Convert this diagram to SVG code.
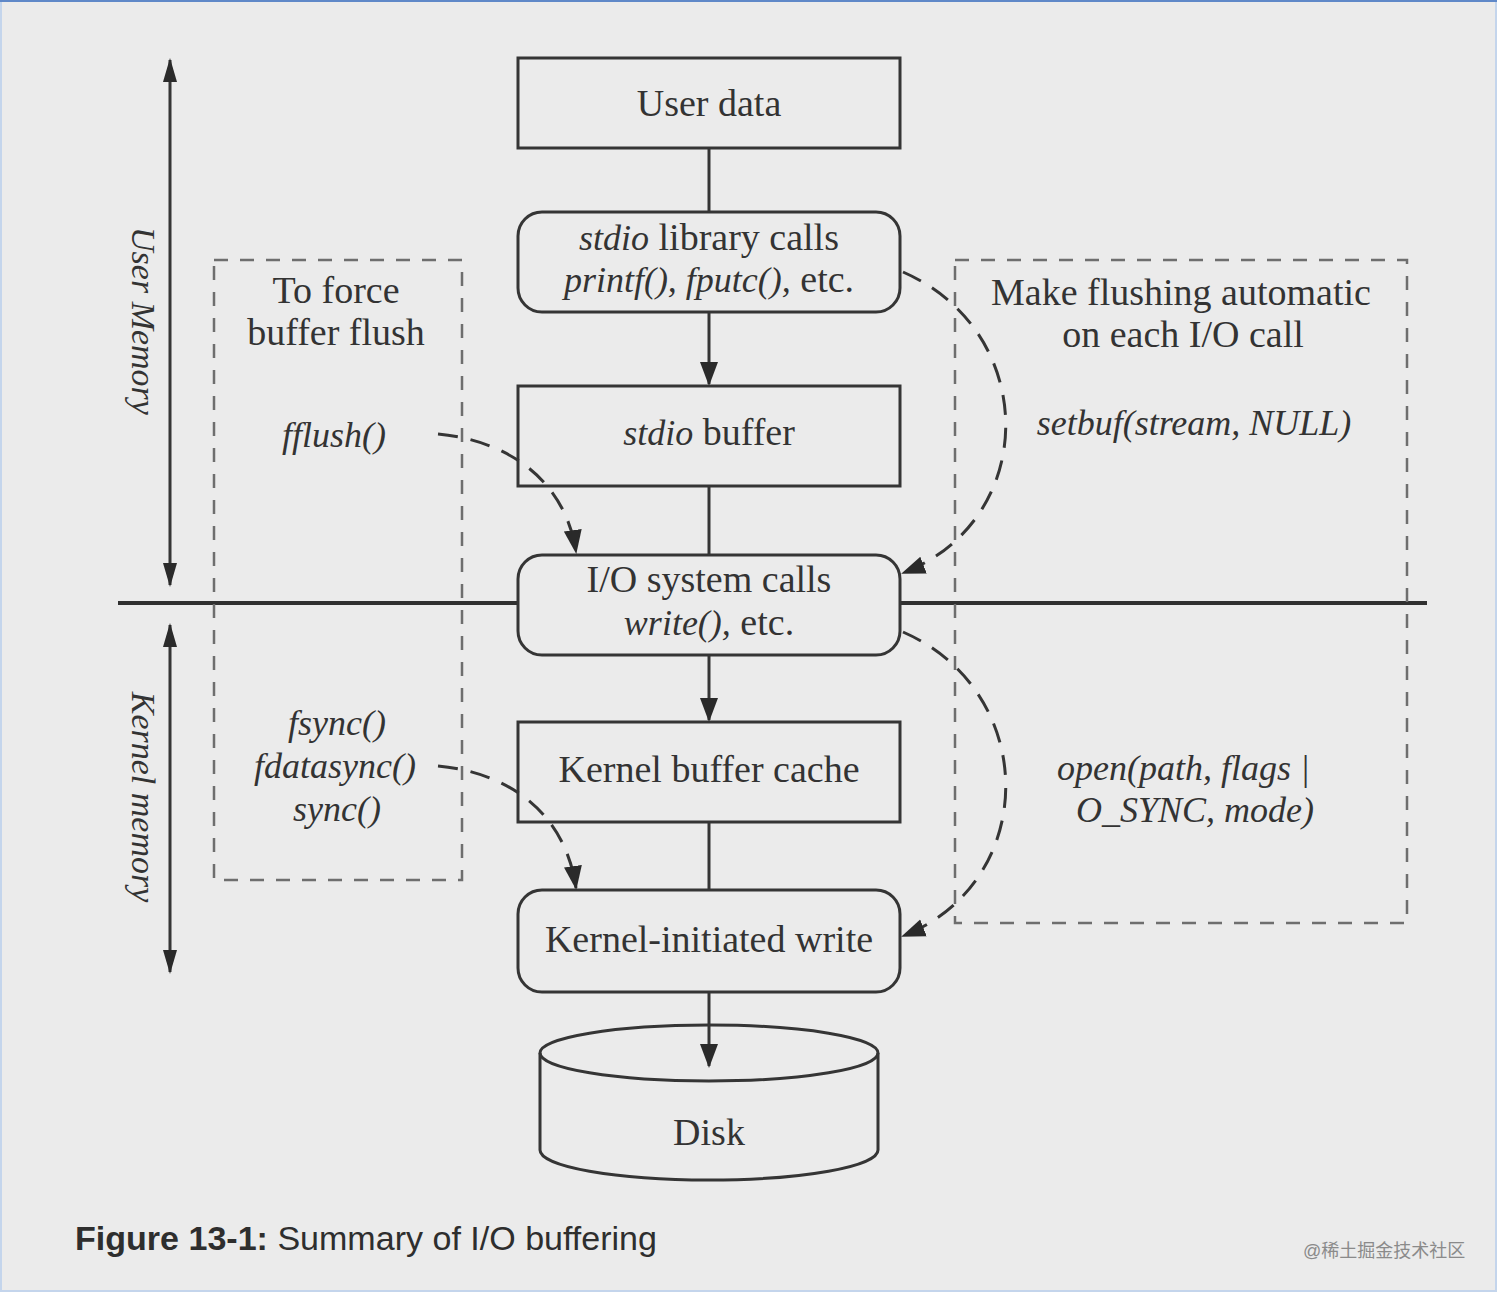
<svg xmlns="http://www.w3.org/2000/svg" width="1497" height="1292" viewBox="0 0 1497 1292">
<style>
.bg{fill:#ebebeb}
.box{fill:#ebebeb;stroke:#353535;stroke-width:3}
.line{fill:none;stroke:#353535;stroke-width:3}
.dbox{fill:none;stroke:#6e6e6e;stroke-width:2.5;stroke-dasharray:14 12}
.dcurve{fill:none;stroke:#353535;stroke-width:3;stroke-dasharray:20 13}
.t{font-family:"Liberation Serif","Times New Roman",serif;font-size:38px;fill:#333;text-anchor:middle}
.i{font-style:italic;font-size:36px}
.side{font-family:"Liberation Serif","Times New Roman",serif;font-size:34px;font-style:italic;fill:#333;text-anchor:middle}
.cap{font-family:"Liberation Sans",Arial,sans-serif;font-size:34px;fill:#2e2e2e}
.wm{font-family:"Liberation Sans","Noto Sans CJK SC",sans-serif;font-size:18px;fill:#8a8a8a}
</style>
<defs>
<marker id="ah" markerUnits="userSpaceOnUse" markerWidth="24" markerHeight="24" viewBox="0 0 24 24" refX="22" refY="12" orient="auto">
<polygon points="0,3 24,12 0,21" fill="#2a2a2a"/>
</marker>
<marker id="ahs" markerUnits="userSpaceOnUse" markerWidth="24" markerHeight="24" viewBox="0 0 24 24" refX="22" refY="12" orient="auto-start-reverse">
<polygon points="0,5 24,12 0,19" fill="#2a2a2a"/>
</marker>
</defs>
<rect class="bg" x="0" y="0" width="1497" height="1292"/>
<rect x="1" y="1" width="1495" height="1290" fill="none" stroke="#c4d5ec" stroke-width="2"/>
<line x1="0" y1="1" x2="1497" y2="1" stroke="#5f88c8" stroke-width="2"/>

<g id="memory-labels">
<line class="line" x1="170" y1="60" x2="170" y2="585" stroke-width="2.5" marker-start="url(#ahs)" marker-end="url(#ahs)"/>
<text class="side" transform="translate(132,321) rotate(90)">User Memory</text>
<line class="line" x1="170" y1="625" x2="170" y2="972" stroke-width="2.5" marker-start="url(#ahs)" marker-end="url(#ahs)"/>
<text class="side" transform="translate(132,797) rotate(90)">Kernel memory</text>
</g>

<line id="boundary" x1="118" y1="603" x2="1427" y2="603" stroke="#303030" stroke-width="4"/>

<g id="force-flush-box">
<rect class="dbox" x="214" y="260" width="248" height="620"/>
<text class="t" x="336" y="303">To force</text>
<text class="t" x="336" y="345">buffer flush</text>
<text class="t i" x="334" y="447">fflush()</text>
<text class="t i" x="337" y="735">fsync()</text>
<text class="t i" x="335" y="778">fdatasync()</text>
<text class="t i" x="337" y="821">sync()</text>
</g>

<g id="auto-flush-box">
<rect class="dbox" x="955" y="260" width="452" height="663"/>
<text class="t" x="1181" y="305">Make flushing automatic</text>
<text class="t" x="1183" y="347">on each I/O call</text>
<text class="t i" x="1194" y="435">setbuf(stream, NULL)</text>
<text class="t i" x="1057" y="780" style="text-anchor:start">open(path, flags |</text>
<text class="t i" x="1076" y="822" style="text-anchor:start">O_SYNC, mode)</text>
</g>

<g id="user-data">
<rect class="box" x="518" y="58" width="382" height="90"/>
<text class="t" x="709" y="116">User data</text>
</g>
<g id="stdio-calls">
<rect class="box" x="518" y="212" width="382" height="100" rx="24"/>
<text class="t" x="709" y="250"><tspan class="i">stdio</tspan> library calls</text>
<text class="t" x="709" y="292"><tspan class="i">printf(), fputc(),</tspan> etc.</text>
</g>
<g id="stdio-buffer">
<rect class="box" x="518" y="386" width="382" height="100"/>
<text class="t" x="709" y="445"><tspan class="i">stdio</tspan> buffer</text>
</g>
<g id="io-syscalls">
<rect class="box" x="518" y="555" width="382" height="100" rx="24"/>
<text class="t" x="709" y="592">I/O system calls</text>
<text class="t" x="709" y="635"><tspan class="i">write(),</tspan> etc.</text>
</g>
<g id="kernel-cache">
<rect class="box" x="518" y="722" width="382" height="100"/>
<text class="t" x="709" y="782">Kernel buffer cache</text>
</g>
<g id="kernel-write">
<rect class="box" x="518" y="890" width="382" height="102" rx="24"/>
<text class="t" x="709" y="952">Kernel-initiated write</text>
</g>
<g id="disk">
<path class="box" d="M540,1053 L540,1150 A169,30 0 0 0 878,1150 L878,1053"/>
<ellipse cx="709" cy="1053" rx="169" ry="28" fill="none" stroke="#353535" stroke-width="3"/>
<text class="t" x="709" y="1145">Disk</text>
</g>

<g id="connectors">
<line class="line" x1="709" y1="148" x2="709" y2="212"/>
<line class="line" x1="709" y1="312" x2="709" y2="384" marker-end="url(#ah)"/>
<line class="line" x1="709" y1="486" x2="709" y2="555"/>
<line class="line" x1="709" y1="655" x2="709" y2="720" marker-end="url(#ah)"/>
<line class="line" x1="709" y1="822" x2="709" y2="890"/>
<line class="line" x1="709" y1="992" x2="709" y2="1066" marker-end="url(#ah)"/>
<path class="dcurve" d="M438,434 C505,440 565,478 576,552" marker-end="url(#ah)"/>
<path class="dcurve" d="M438,766 C505,772 565,810 576,888" marker-end="url(#ah)"/>
<path class="dcurve" d="M903,272 C1040,332 1040,520 903,573" marker-end="url(#ah)"/>
<path class="dcurve" d="M903,632 C1040,692 1040,882 903,936" marker-end="url(#ah)"/>
</g>

<text class="cap" x="75" y="1250" textLength="582" lengthAdjust="spacingAndGlyphs"><tspan font-weight="bold">Figure 13-1:</tspan> Summary of I/O buffering</text>
<text class="wm" x="1303" y="1257">@稀土掘金技术社区</text>
</svg>
